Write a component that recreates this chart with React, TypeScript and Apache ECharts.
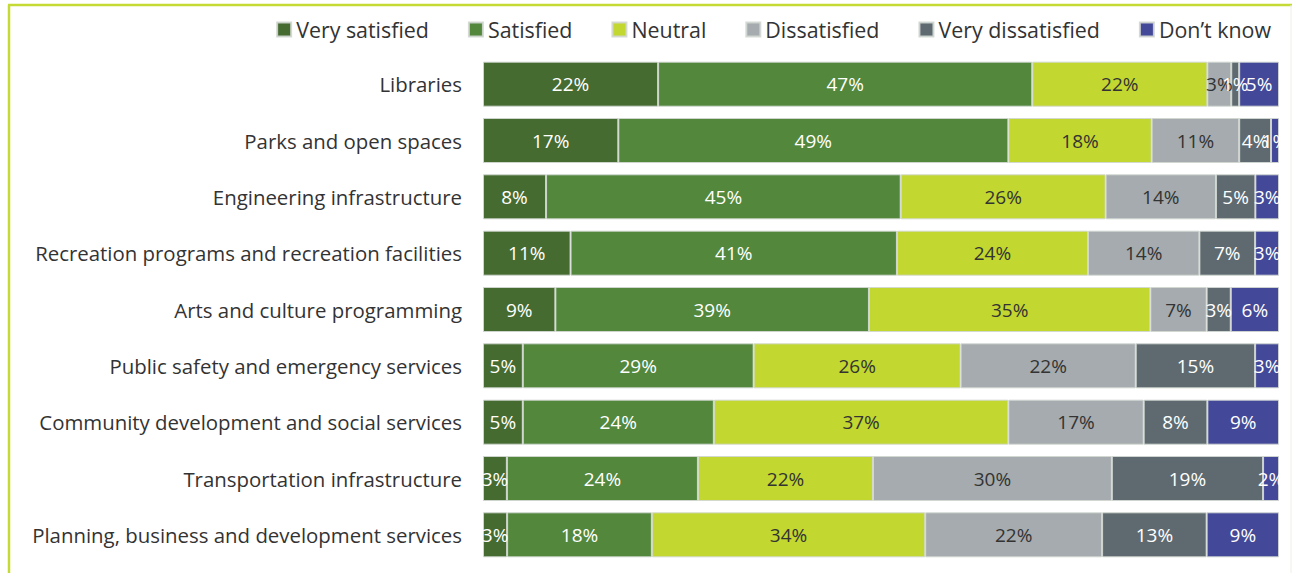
import React, { useEffect, useRef } from "react";
import * as echarts from "echarts";

const categories = [
  "Libraries",
  "Parks and open spaces",
  "Engineering infrastructure",
  "Recreation programs and recreation facilities",
  "Arts and culture programming",
  "Public safety and emergency services",
  "Community development and social services",
  "Transportation infrastructure",
  "Planning, business and development services",
];

const seriesNames = ["Very satisfied", "Satisfied", "Neutral", "Dissatisfied", "Very dissatisfied", "Don\u2019t know"];

const verySatisfied = [22, 17, 8, 11, 9, 5, 5, 3, 3];
const satisfied = [47, 49, 45, 41, 39, 29, 24, 24, 18];
const neutral = [22, 18, 26, 24, 35, 26, 37, 22, 34];
const dissatisfied = [3, 11, 14, 14, 7, 22, 17, 30, 22];
const veryDissatisfied = [1, 4, 5, 7, 3, 15, 8, 19, 13];
const dontKnow = [5, 1, 3, 3, 6, 3, 9, 2, 9];

const colors = ["#466b31", "#52873c", "#c2d72f", "#a5abae", "#5e6a70", "#434899"];
const labelColors = ["#ffffff", "#ffffff", "#333333", "#333333", "#ffffff", "#ffffff"];

const allSeries = [verySatisfied, satisfied, neutral, dissatisfied, veryDissatisfied, dontKnow];

export default function App() {
  const ref = useRef<HTMLDivElement>(null);
  useEffect(() => {
    if (!ref.current) return;
    const chart = echarts.init(ref.current, undefined, { renderer: "svg" });
    const totals = categories.map((_, i) => allSeries.reduce((s, arr) => s + arr[i], 0));
    const font = "'Open Sans', 'Noto Sans', sans-serif";
    chart.setOption({
      animation: false,
      textStyle: { fontFamily: font },
      legend: {
        top: 14,
        right: 16,
        itemWidth: 14,
        itemHeight: 14,
        itemGap: 39,
        icon: "rect",
        textStyle: { fontSize: 21.4, color: "#333333", fontFamily: font },
        data: seriesNames,
      },
      grid: { left: 483, right: 13, top: 56, bottom: 10, containLabel: false },
      xAxis: {
        type: "value",
        min: 0,
        max: 100,
        show: false,
      },
      yAxis: {
        type: "category",
        data: categories,
        inverse: true,
        axisLine: { show: false },
        axisTick: { show: false },
        axisLabel: { fontSize: 20.4, color: "#333333", margin: 21, fontFamily: font },
      },
      series: allSeries.map((arr, si) => ({
        name: seriesNames[si],
        type: "bar",
        stack: "total",
        barWidth: 45,
        itemStyle: { color: colors[si], borderColor: "rgba(210,215,210,0.9)", borderWidth: 1 },
        label: {
          show: true,
          position: "inside",
          fontSize: 19,
          color: labelColors[si],
          fontFamily: font,
          formatter: (p: any) => arr[p.dataIndex] + "%",
        },
        data: arr.map((v, i) => (v / totals[i]) * 100),
      })),
      graphic: [
        { type: "line", shape: { x1: 8, y1: 5, x2: 1292, y2: 5 }, style: { stroke: "#c5da35", lineWidth: 2.5 } },
        { type: "line", shape: { x1: 9, y1: 5, x2: 9, y2: 573 }, style: { stroke: "#c5da35", lineWidth: 2.5 } },
        { type: "line", shape: { x1: 1291, y1: 5, x2: 1291, y2: 573 }, style: { stroke: "#eef0e6", lineWidth: 1 } },
      ],
    });
    return () => chart.dispose();
  }, []);
  return (
    <div
      ref={ref}
      style={{ position: "absolute", left: 0, top: 0, width: 1292, height: 573, background: "#ffffff" }}
    />
  );
}
